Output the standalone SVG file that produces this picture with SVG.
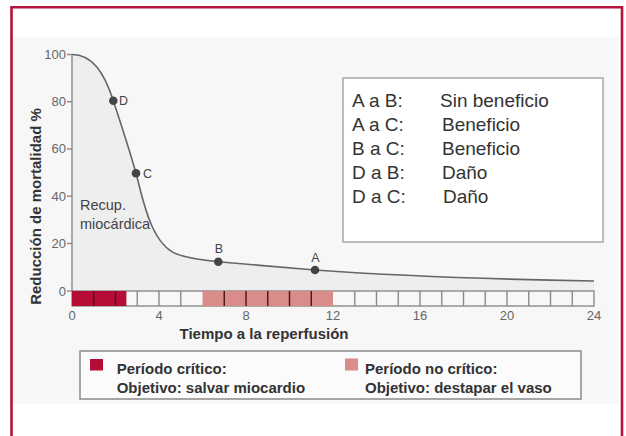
<svg xmlns="http://www.w3.org/2000/svg" width="626" height="436" viewBox="0 0 626 436">
<style>
text{font-family:"Liberation Sans",Arial,sans-serif}
.tick{font-size:13px;fill:#666}
.ttl{font-size:15px;font-weight:bold;fill:#333}
.pt{font-size:12.5px;fill:#444}
.box{font-size:19px;fill:#333}
.grid{stroke:#8a8a8a;stroke-width:1.4;fill:none}
.dark{stroke:#4a1418;stroke-width:1.4}
.dot{fill:#444}
</style>
<rect x="0" y="0" width="626" height="436" fill="#ffffff"/>
<rect x="13" y="37" width="605" height="367" fill="#f7f7f7"/>
<path d="M11.5,436 V7.3 H622 V436" fill="none" stroke="#b4123d" stroke-width="2.6"/>

<g id="chart">
  <path d="M72,54.5 C92,54.5 104,72 113.3,100.7 C117.5,113.7 128,145 136,173.3 C142,194.5 150,244 176.7,254 C190,259 205,260.5 218.3,261.7 C250,264.5 285,267.5 315,270 C400,276 500,279.5 594,281 L594,291 L72,291 Z" fill="#eeeeee"/>
  <path d="M72,54.5 C92,54.5 104,72 113.3,100.7 C117.5,113.7 128,145 136,173.3 C142,194.5 150,244 176.7,254 C190,259 205,260.5 218.3,261.7 C250,264.5 285,267.5 315,270 C400,276 500,279.5 594,281" fill="none" stroke="#666" stroke-width="1.6"/>
  <g stroke="#888" stroke-width="1.4">
    <line x1="72" y1="54.5" x2="72" y2="291"/>
    <line x1="67" y1="54.5" x2="72" y2="54.5"/>
    <line x1="67" y1="101.7" x2="72" y2="101.7"/>
    <line x1="67" y1="149" x2="72" y2="149"/>
    <line x1="67" y1="196.2" x2="72" y2="196.2"/>
    <line x1="67" y1="243.5" x2="72" y2="243.5"/>
    <line x1="67" y1="291" x2="72" y2="291"/>
  </g>
  <g class="tick" text-anchor="end">
    <text x="66" y="59">100</text>
    <text x="66" y="106">80</text>
    <text x="66" y="153">60</text>
    <text x="66" y="200.5">40</text>
    <text x="66" y="248">20</text>
    <text x="66" y="295.5">0</text>
  </g>
  <text class="ttl" transform="translate(41,206.5) rotate(-90)" text-anchor="middle">Reducción de mortalidad %</text>

  <g id="bar">
    <rect x="72" y="291" width="522" height="15" fill="#ffffff" class="grid"/>
    <path class="grid" d="M137.25,291V306M159,291V306M180.75,291V306M354.75,291V306M376.5,291V306M398.25,291V306M420,291V306M441.75,291V306M463.5,291V306M485.25,291V306M507,291V306M528.75,291V306M550.5,291V306M572.25,291V306"/>
    <rect x="72" y="291" width="54.4" height="15" fill="#b50d35"/>
    <rect x="202.5" y="291" width="130.5" height="15" fill="#d98c8a"/>
    <path class="dark" d="M93.75,291V306M115.5,291V306M224.25,291V306M246,291V306M267.75,291V306M289.5,291V306M311.25,291V306"/>
  </g>
  <g class="tick" text-anchor="middle">
    <text x="72" y="319.5">0</text>
    <text x="159" y="319.5">4</text>
    <text x="246" y="319.5">8</text>
    <text x="333" y="319.5">12</text>
    <text x="420" y="319.5">16</text>
    <text x="507" y="319.5">20</text>
    <text x="594" y="319.5">24</text>
  </g>
  <text class="ttl" x="264" y="339" text-anchor="middle">Tiempo a la reperfusión</text>

  <text x="80" y="210" font-size="14.5" fill="#444">Recup.</text>
  <text x="80" y="229" font-size="14.5" fill="#444">miocárdica</text>
</g>

<g id="pointD"><circle class="dot" cx="113.3" cy="100.7" r="4.3"/><text class="pt" x="119" y="105">D</text></g>
<g id="pointC"><circle class="dot" cx="136" cy="173.3" r="4.3"/><text class="pt" x="143" y="177.7">C</text></g>
<g id="pointB"><circle class="dot" cx="218.3" cy="261.7" r="4.3"/><text class="pt" x="219" y="253.3" text-anchor="middle">B</text></g>
<g id="pointA"><circle class="dot" cx="315" cy="270" r="4.3"/><text class="pt" x="315.5" y="261.7" text-anchor="middle">A</text></g>

<g id="infobox">
  <rect x="343" y="78" width="260" height="164" fill="#ffffff" stroke="#9a9a9a" stroke-width="1.3"/>
  <g class="box">
    <text x="352" y="106.7">A a B:</text><text x="440" y="106.7">Sin beneficio</text>
    <text x="352" y="130.7">A a C:</text><text x="442" y="130.7">Beneficio</text>
    <text x="352" y="155">B a C:</text><text x="442" y="155">Beneficio</text>
    <text x="352" y="179">D a B:</text><text x="442" y="179">Daño</text>
    <text x="352" y="203">D a C:</text><text x="443" y="203">Daño</text>
  </g>
</g>

<g id="legend">
  <rect x="80" y="351" width="501" height="48" fill="#fbfbfb" stroke="#8a8a8a" stroke-width="1.5"/>
  <rect x="90" y="359" width="13" height="11.5" fill="#b50d35"/>
  <text class="ttl" x="116.7" y="374">Período crítico:</text>
  <text class="ttl" x="116.7" y="393.3">Objetivo: salvar miocardio</text>
  <rect x="345" y="358.5" width="13" height="12" fill="#d98c8a"/>
  <text class="ttl" x="365" y="374">Período no crítico:</text>
  <text class="ttl" x="365" y="393.3">Objetivo: destapar el vaso</text>
</g>
</svg>
